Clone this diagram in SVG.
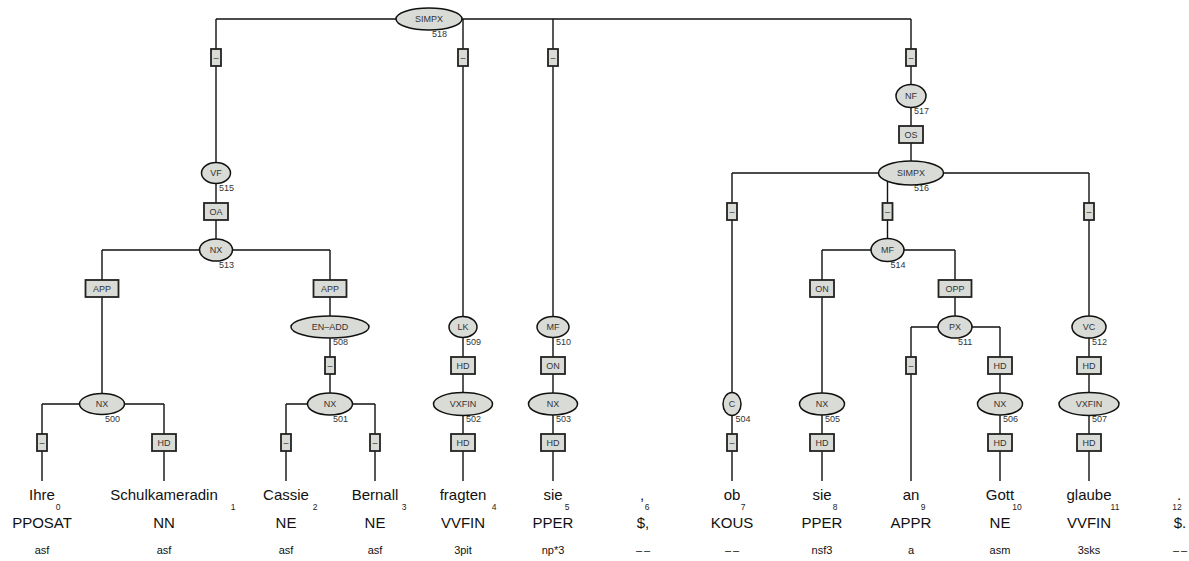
<svg xmlns="http://www.w3.org/2000/svg" width="1189" height="561" viewBox="0 0 1189 561">
<style>
.l{stroke:#111;stroke-width:1.4;fill:none}
.e{fill:#d9dbd7;stroke:#111;stroke-width:1.5}
.b{fill:#d9dbd7;stroke:#222;stroke-width:1.8}
text{font-family:"Liberation Sans",Arial,sans-serif}
.nt{font-size:9px;fill:#333;text-anchor:middle}
.id{font-size:9px;fill:#333}
.w{font-size:15px;fill:#111;text-anchor:middle}
.ix{font-size:8.5px;fill:#222;text-anchor:middle}
.p{font-size:15px;fill:#111;text-anchor:middle}
.m{font-size:11px;fill:#111;text-anchor:middle}
.dd{letter-spacing:2px}
</style>
<rect width="1189" height="561" fill="#fff"/>
<g id="connectors">
<path class="l" d="M216 19H911 M732 173H1089 M102 250H330 M822 250H955 M911 327H1000 M42 404H164 M286 404H375"/>
<path class="l" d="M216 19V250 M463 19V481 M553 19V481 M911 19V173 M732 173V481 M887.5 173V250 M1089 173V481 M102 250V404 M330 250V404 M822 250V481 M955 250V327 M911 327V481 M1000 327V481 M42 404V481 M164 404V481 M286 404V481 M375 404V481"/>
<g id="edge-labels">
<rect class="b" x="211" y="49" width="10" height="17"/><text class="nt" x="216" y="60.5">–</text>
<rect class="b" x="458" y="49" width="10" height="17"/><text class="nt" x="463" y="60.5">–</text>
<rect class="b" x="548" y="49" width="10" height="17"/><text class="nt" x="553" y="60.5">–</text>
<rect class="b" x="906" y="49" width="10" height="17"/><text class="nt" x="911" y="60.5">–</text>
<rect class="b" x="899" y="126" width="24" height="17"/><text class="nt" x="911" y="137.7">OS</text>
<rect class="b" x="204" y="203" width="24" height="17"/><text class="nt" x="216" y="214.7">OA</text>
<rect class="b" x="727" y="203" width="10" height="17"/><text class="nt" x="732" y="214.5">–</text>
<rect class="b" x="882.5" y="203" width="10" height="17"/><text class="nt" x="887.5" y="214.5">–</text>
<rect class="b" x="1084" y="203" width="10" height="17"/><text class="nt" x="1089" y="214.5">–</text>
<rect class="b" x="85.5" y="280" width="33" height="17"/><text class="nt" x="102" y="291.7">APP</text>
<rect class="b" x="313.5" y="280" width="33" height="17"/><text class="nt" x="330" y="291.7">APP</text>
<rect class="b" x="810" y="280" width="24" height="17"/><text class="nt" x="822" y="291.7">ON</text>
<rect class="b" x="938.5" y="280" width="33" height="17"/><text class="nt" x="955" y="291.7">OPP</text>
<rect class="b" x="325" y="357" width="10" height="17"/><text class="nt" x="330" y="368.5">–</text>
<rect class="b" x="451" y="357" width="24" height="17"/><text class="nt" x="463" y="368.7">HD</text>
<rect class="b" x="541" y="357" width="24" height="17"/><text class="nt" x="553" y="368.7">ON</text>
<rect class="b" x="906" y="357" width="10" height="17"/><text class="nt" x="911" y="368.5">–</text>
<rect class="b" x="988" y="357" width="24" height="17"/><text class="nt" x="1000" y="368.7">HD</text>
<rect class="b" x="1077" y="357" width="24" height="17"/><text class="nt" x="1089" y="368.7">HD</text>
<rect class="b" x="37" y="434" width="10" height="17"/><text class="nt" x="42" y="445.5">–</text>
<rect class="b" x="152" y="434" width="24" height="17"/><text class="nt" x="164" y="445.7">HD</text>
<rect class="b" x="281" y="434" width="10" height="17"/><text class="nt" x="286" y="445.5">–</text>
<rect class="b" x="370" y="434" width="10" height="17"/><text class="nt" x="375" y="445.5">–</text>
<rect class="b" x="451" y="434" width="24" height="17"/><text class="nt" x="463" y="445.7">HD</text>
<rect class="b" x="541" y="434" width="24" height="17"/><text class="nt" x="553" y="445.7">HD</text>
<rect class="b" x="727" y="434" width="10" height="17"/><text class="nt" x="732" y="445.5">–</text>
<rect class="b" x="810" y="434" width="24" height="17"/><text class="nt" x="822" y="445.7">HD</text>
<rect class="b" x="988" y="434" width="24" height="17"/><text class="nt" x="1000" y="445.7">HD</text>
<rect class="b" x="1077" y="434" width="24" height="17"/><text class="nt" x="1089" y="445.7">HD</text>
</g>
</g>
<g id="n518"><ellipse class="e" cx="429" cy="19" rx="33" ry="11"/><text class="nt" x="429" y="22.2">SIMPX</text><text class="id" x="432" y="37">518</text></g>
<g id="n517"><ellipse class="e" cx="911" cy="96" rx="15" ry="11.5"/><text class="nt" x="911" y="99.2">NF</text><text class="id" x="914" y="114">517</text></g>
<g id="n516"><ellipse class="e" cx="911" cy="173" rx="32.5" ry="12"/><text class="nt" x="911" y="176.2">SIMPX</text><text class="id" x="914" y="191">516</text></g>
<g id="n515"><ellipse class="e" cx="216" cy="173" rx="14.5" ry="10.5"/><text class="nt" x="216" y="176.2">VF</text><text class="id" x="219" y="191">515</text></g>
<g id="n513"><ellipse class="e" cx="216" cy="250" rx="16.5" ry="11"/><text class="nt" x="216" y="253.2">NX</text><text class="id" x="219" y="268">513</text></g>
<g id="n514"><ellipse class="e" cx="887.5" cy="250" rx="16.5" ry="11.5"/><text class="nt" x="887.5" y="253.2">MF</text><text class="id" x="890.5" y="268">514</text></g>
<g id="n508"><ellipse class="e" cx="330" cy="327" rx="39" ry="11"/><text class="nt" x="330" y="330.2">EN–ADD</text><text class="id" x="333" y="345">508</text></g>
<g id="n509"><ellipse class="e" cx="463" cy="327" rx="14" ry="10.5"/><text class="nt" x="463" y="330.2">LK</text><text class="id" x="466" y="345">509</text></g>
<g id="n510"><ellipse class="e" cx="553" cy="327" rx="16" ry="10.5"/><text class="nt" x="553" y="330.2">MF</text><text class="id" x="556" y="345">510</text></g>
<g id="n511"><ellipse class="e" cx="955" cy="327" rx="17" ry="11"/><text class="nt" x="955" y="330.2">PX</text><text class="id" x="958" y="345">511</text></g>
<g id="n512"><ellipse class="e" cx="1089" cy="327" rx="17" ry="11"/><text class="nt" x="1089" y="330.2">VC</text><text class="id" x="1092" y="345">512</text></g>
<g id="n500"><ellipse class="e" cx="102" cy="404" rx="22.5" ry="10.5"/><text class="nt" x="102" y="407.2">NX</text><text class="id" x="105" y="422">500</text></g>
<g id="n501"><ellipse class="e" cx="330" cy="404" rx="22.5" ry="11"/><text class="nt" x="330" y="407.2">NX</text><text class="id" x="333" y="422">501</text></g>
<g id="n502"><ellipse class="e" cx="463" cy="404" rx="29.5" ry="11.5"/><text class="nt" x="463" y="407.2">VXFIN</text><text class="id" x="466" y="422">502</text></g>
<g id="n503"><ellipse class="e" cx="553" cy="404" rx="24.5" ry="11"/><text class="nt" x="553" y="407.2">NX</text><text class="id" x="556" y="422">503</text></g>
<g id="n504"><ellipse class="e" cx="732" cy="404" rx="9" ry="11.5"/><text class="nt" x="732" y="407.2">C</text><text class="id" x="735.5" y="422">504</text></g>
<g id="n505"><ellipse class="e" cx="822" cy="404" rx="22.5" ry="11"/><text class="nt" x="822" y="407.2">NX</text><text class="id" x="825" y="422">505</text></g>
<g id="n506"><ellipse class="e" cx="1000" cy="404" rx="22.5" ry="11"/><text class="nt" x="1000" y="407.2">NX</text><text class="id" x="1003" y="422">506</text></g>
<g id="n507"><ellipse class="e" cx="1089" cy="404" rx="30" ry="11.5"/><text class="nt" x="1089" y="407.2">VXFIN</text><text class="id" x="1092" y="422">507</text></g>
<g id="t0"><text class="w" x="42" y="500">Ihre</text><text class="ix" x="58" y="510">0</text><text class="p" x="42" y="528">PPOSAT</text><text class="m" x="42" y="554">asf</text></g>
<g id="t1"><text class="w" x="164" y="500">Schulkameradin</text><text class="ix" x="233" y="510">1</text><text class="p" x="164" y="528">NN</text><text class="m" x="164" y="554">asf</text></g>
<g id="t2"><text class="w" x="286" y="500">Cassie</text><text class="ix" x="315" y="510">2</text><text class="p" x="286" y="528">NE</text><text class="m" x="286" y="554">asf</text></g>
<g id="t3"><text class="w" x="375" y="500">Bernall</text><text class="ix" x="404" y="510">3</text><text class="p" x="375" y="528">NE</text><text class="m" x="375" y="554">asf</text></g>
<g id="t4"><text class="w" x="463" y="500">fragten</text><text class="ix" x="494" y="510">4</text><text class="p" x="463" y="528">VVFIN</text><text class="m" x="463" y="554">3pit</text></g>
<g id="t5"><text class="w" x="553" y="500">sie</text><text class="ix" x="567" y="510">5</text><text class="p" x="553" y="528">PPER</text><text class="m" x="553" y="554">np*3</text></g>
<g id="t6"><text class="w" x="642" y="500">,</text><text class="ix" x="647" y="510">6</text><text class="p" x="643" y="528">$,</text><text class="m dd" x="644" y="554">––</text></g>
<g id="t7"><text class="w" x="732" y="500">ob</text><text class="ix" x="743" y="510">7</text><text class="p" x="732" y="528">KOUS</text><text class="m dd" x="733" y="554">––</text></g>
<g id="t8"><text class="w" x="822" y="500">sie</text><text class="ix" x="835" y="510">8</text><text class="p" x="822" y="528">PPER</text><text class="m" x="822" y="554">nsf3</text></g>
<g id="t9"><text class="w" x="911" y="500">an</text><text class="ix" x="923" y="510">9</text><text class="p" x="911" y="528">APPR</text><text class="m" x="911" y="554">a</text></g>
<g id="t10"><text class="w" x="1000" y="500">Gott</text><text class="ix" x="1017" y="510">10</text><text class="p" x="1000" y="528">NE</text><text class="m" x="1000" y="554">asm</text></g>
<g id="t11"><text class="w" x="1089" y="500">glaube</text><text class="ix" x="1115" y="510">11</text><text class="p" x="1089" y="528">VVFIN</text><text class="m" x="1089" y="554">3sks</text></g>
<g id="t12"><text class="w" x="1179" y="500">.</text><text class="ix" x="1177" y="510">12</text><text class="p" x="1180" y="528">$.</text><text class="m dd" x="1181" y="554">––</text></g>
</svg>
